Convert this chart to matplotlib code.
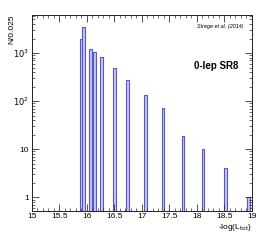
import matplotlib
matplotlib.use("Agg")
import matplotlib.pyplot as plt
from matplotlib.ticker import FixedLocator, MultipleLocator, NullFormatter
import numpy as np

plt.rcParams['font.family'] = ['Liberation Sans', 'DejaVu Sans']

# bin left edges (value of -log(L_tot)) and counts
bin_left = [15.87, 15.915, 16.04, 16.11, 16.24, 16.48, 16.71, 17.04, 17.36, 17.72, 18.085, 18.50, 18.915]
counts = [1920, 3400, 1190, 1060, 815, 482, 272, 133, 72, 19, 10, 4.1, 1]
bin_width = 0.05

fig = plt.figure(figsize=(2.66, 2.41), dpi=100)
ax = fig.add_axes([0.1203, 0.1257, 0.947 - 0.1203, 0.939 - 0.1257])

ax.bar(bin_left, counts, width=bin_width, align='edge', bottom=0.001,
       facecolor='#c8c8ec', edgecolor='#5555cc', linewidth=0.8)

ax.set_yscale('log')
ax.set_xlim(15, 19)
ax.set_ylim(0.53, 6250)

ax.xaxis.set_major_locator(MultipleLocator(0.5))
ax.xaxis.set_minor_locator(MultipleLocator(0.1))
ax.set_xticks([15, 15.5, 16, 16.5, 17, 17.5, 18, 18.5, 19])
ax.set_xticklabels(['15', '15.5', '16', '16.5', '17', '17.5', '18', '18.5', '19'])
ax.yaxis.set_major_locator(FixedLocator([1, 10, 100, 1000]))
ax.set_yticklabels(['1', '10', r'$10^{2}$', r'$10^{3}$'])
minors = [m * 10**e for e in range(-1, 4) for m in range(2, 10)]
ax.yaxis.set_minor_locator(FixedLocator(minors))
ax.yaxis.set_minor_formatter(NullFormatter())

ax.tick_params(which='both', direction='in', top=True, right=True, labelsize=6, pad=2, color='#333333')
ax.tick_params(which='major', length=5, width=0.6)
ax.tick_params(which='minor', length=2.5, width=0.5)
for s in ax.spines.values():
    s.set_linewidth(0.7)
    s.set_color('#222222')

fig.text(0.045, 0.939, 'N/0.025', rotation=90, ha='center', va='top', fontsize=6)
fig.text(0.947, 0.035, r'-log(L$_{\mathrm{tot}}$)', ha='right', va='bottom', fontsize=6)
ax.text(0.96, 0.955, 'Strege et al. (2014)', transform=ax.transAxes, ha='right', va='top',
        fontsize=4, style='italic')
ax.text(0.94, 0.74, '0-lep SR8', transform=ax.transAxes, ha='right', va='center',
        fontsize=7, fontweight='bold')

fig.savefig('out.png', dpi=100, facecolor='white')
